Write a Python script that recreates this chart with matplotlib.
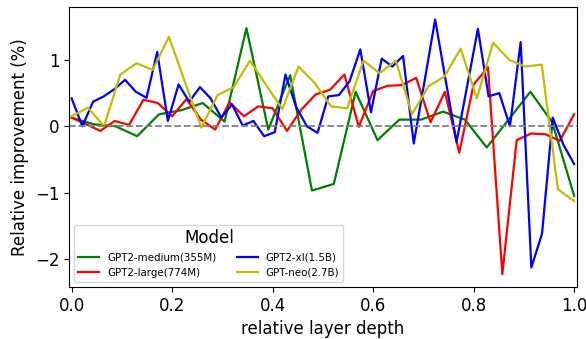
import numpy as np
import matplotlib
matplotlib.use("Agg")
import matplotlib.pyplot as plt

# relative improvement (%) per layer
gpt2_medium = [0.13, 0.03, 0.0, -0.15, 0.18, 0.24, 0.35, 0.07, 1.48, -0.05,
               0.77, -0.97, -0.87, 0.52, -0.21, 0.10, 0.10, 0.22, 0.10, -0.32,
               0.10, 0.52, 0.06, -1.05]
gpt2_large = [0.13, 0.03, -0.07, 0.08, 0.02, 0.40, 0.35, 0.15, 0.41, 0.10,
              -0.05, 0.36, 0.15, 0.30, 0.27, -0.07, 0.25, 0.48, 0.55, 0.78,
              -0.01, 0.53, 0.61, 0.62, 0.73, 0.06, 0.52, -0.40, 0.63, 0.89,
              -2.23, -0.21, -0.11, -0.12, -0.22, 0.18]
gpt2_xl = [0.42, 0.0, 0.37, 0.45, 0.56, 0.70, 0.52, 0.43, 1.12, 0.08,
           0.63, 0.37, 0.59, 0.42, 0.13, 0.33, 0.01, 0.08, -0.15, -0.09,
           0.78, 0.29, 0.0, -0.10, 0.45, 0.47, 0.68, 1.16, 0.21, 1.02,
           0.90, 1.06, -0.26, 0.67, 1.61, 0.68, -0.24, 0.61, 1.47, 0.45,
           0.50, 0.0, 1.27, -2.13, -1.62, 0.13, -0.28, -0.57]
gpt_neo = [0.15, 0.28, 0.0, 0.78, 0.95, 0.85, 1.35, 0.66, -0.02, 0.47,
           0.59, 0.99, 0.62, 0.26, 0.90, 0.65, 0.30, 0.27, 0.99, 0.80,
           0.99, 0.18, 0.60, 0.75, 1.17, 0.42, 1.26, 1.00, 0.90, 0.93,
           -0.95, -1.13]

models = ["GPT2-medium(355M)", "GPT2-large(774M)", "GPT2-xl(1.5B)", "GPT-neo(2.7B)"]
series = [gpt2_medium, gpt2_large, gpt2_xl, gpt_neo]
colors = ["green", "red", "blue", "y"]

fig, ax = plt.subplots(figsize=(5.86, 3.39), dpi=100)
plt.subplots_adjust(left=0.118, right=0.984, top=0.980, bottom=0.154)

for name, vals, c in zip(models, series, colors):
    depth = np.linspace(0, 1, len(vals))
    ax.plot(depth, vals, color=c, linewidth=1.6, label=name)

ax.axhline(0, color="gray", linestyle="--", linewidth=1.3)

ax.set_xlim(-0.005, 1.005)
ax.set_xlabel("relative layer depth", fontsize=12)
ax.set_ylabel("Relative improvement (%)", fontsize=12)
ax.tick_params(labelsize=12)

leg = ax.legend(title="Model", loc="lower left", ncol=2, fontsize=7.4,
                title_fontsize=12)

fig.savefig("out.png", dpi=100)
